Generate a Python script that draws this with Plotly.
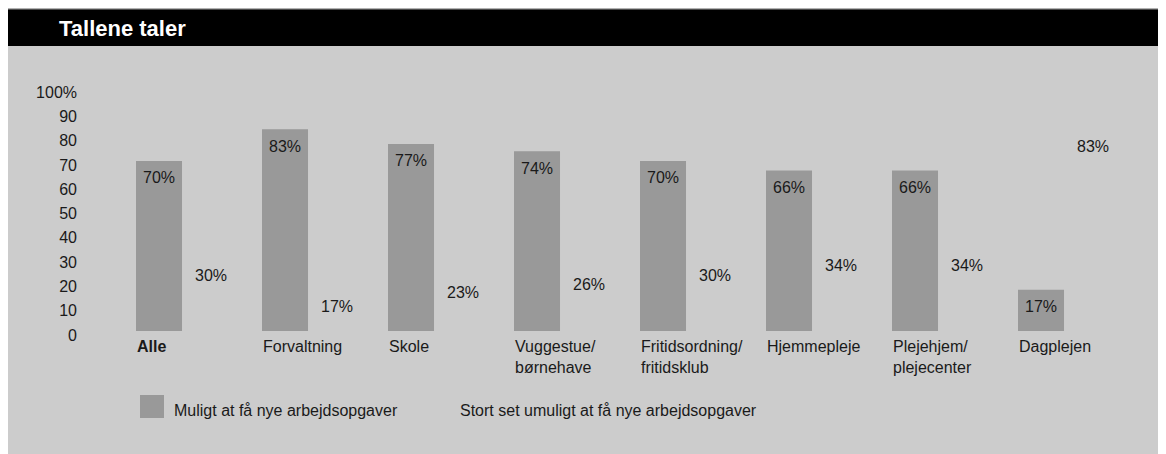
import plotly.graph_objects as go

# data
categories = ["Alle", "Forvaltning", "Skole", "Vuggestue/<br>børnehave",
              "Fritidsordning/<br>fritidsklub", "Hjemmepleje",
              "Plejehjem/<br>plejecenter", "Dagplejen"]
muligt = [70, 83, 77, 74, 70, 66, 66, 17]
umuligt = [30, 17, 23, 26, 30, 34, 34, 83]
series_names = ["Muligt at få nye arbejdsopgaver",
                "Stort set umuligt at få nye arbejdsopgaver"]
y_ticks = [0, 10, 20, 30, 40, 50, 60, 70, 80, 90, 100]
y_ticktext = ["0", "10", "20", "30", "40", "50", "60", "70", "80", "90", "100%"]

W, H = 1166, 454
ML, MR, MT, MB = 114, 44, 80, 131
FONT = "Liberation Sans, Arial, sans-serif"
PANEL = "#cccccc"
BAR = "#999999"
INK = "#1a1a1a"


# pixel (figure) -> paper coordinates, for things outside the plot area
def px_x(px):
    return (px - ML) / (W - ML - MR)


def px_y(py):
    return (H - MB - py) / (H - MT - MB)


cat_keys = [c.replace("<br>", " ") for c in categories]

fig = go.Figure()
fig.add_bar(x=cat_keys, y=muligt, name=series_names[0], marker_color=BAR,
            marker_line_width=0, hoverinfo="skip")
fig.add_bar(x=cat_keys, y=umuligt, name=series_names[1],
            marker_color="rgba(0,0,0,0)", marker_line_width=0, hoverinfo="skip")

annotations = []
# value labels
for key, a, b in zip(cat_keys, muligt, umuligt):
    for val, shift in ((a, -26), (b, 26)):
        annotations.append(dict(x=key, y=val, xref="x", yref="y", text=f"{val}%",
                                showarrow=False, xshift=shift, yshift=-17,
                                yanchor="middle", font=dict(size=16, color=INK)))
# category labels, left aligned with the bar edge
for i, (key, label) in enumerate(zip(cat_keys, categories)):
    txt = f"<b>{label}</b>" if i == 0 else label
    annotations.append(dict(x=key, y=0, xref="x", yref="y", text=txt,
                            showarrow=False, xanchor="left", yanchor="top",
                            align="left", xshift=-50, yshift=-5,
                            font=dict(size=16, color=INK)))
# title
annotations.append(dict(x=px_x(49), y=px_y(20), xref="paper", yref="paper",
                        text="<b>Tallene taler</b>", showarrow=False,
                        xanchor="left", yanchor="middle",
                        font=dict(size=22, color="white")))
# legend
annotations.append(dict(x=px_x(164), y=px_y(402), xref="paper", yref="paper",
                        text=series_names[0], showarrow=False, xanchor="left",
                        yanchor="middle", font=dict(size=16, color=INK)))
annotations.append(dict(x=px_x(450), y=px_y(402), xref="paper", yref="paper",
                        text=series_names[1], showarrow=False, xanchor="left",
                        yanchor="middle", font=dict(size=16, color=INK)))

shapes = [
    # black header
    dict(type="rect", xref="paper", yref="paper", x0=px_x(0), x1=px_x(W),
         y0=px_y(38), y1=px_y(1), fillcolor="black", line_width=0, layer="below"),
    dict(type="line", xref="paper", yref="paper", x0=px_x(0), x1=px_x(W),
         y0=px_y(1), y1=px_y(1), line=dict(color="#999999", width=1)),
    # legend swatch
    dict(type="rect", xref="paper", yref="paper", x0=px_x(132), x1=px_x(156),
         y0=px_y(410), y1=px_y(387), fillcolor=BAR, line_width=0),
]

fig.update_layout(
    width=W, height=H,
    margin=dict(l=ML, r=MR, t=MT, b=MB, pad=0),
    paper_bgcolor=PANEL, plot_bgcolor=PANEL,
    barmode="group", bargap=0.175, bargroupgap=0.115,
    showlegend=False,
    font=dict(family=FONT, size=16, color=INK),
    annotations=annotations,
    shapes=shapes,
)
fig.update_xaxes(type="category", showticklabels=False, showgrid=False,
                 zeroline=False, showline=False, fixedrange=True)
fig.update_yaxes(range=[0, 100], tickvals=y_ticks, ticktext=y_ticktext,
                 showgrid=False, zeroline=False, showline=False, ticks="",
                 ticklabelstandoff=44, ticklabelshift=4, fixedrange=True,
                 tickfont=dict(size=16, color=INK))

fig.write_html("out.html", config={"displayModeBar": False})
